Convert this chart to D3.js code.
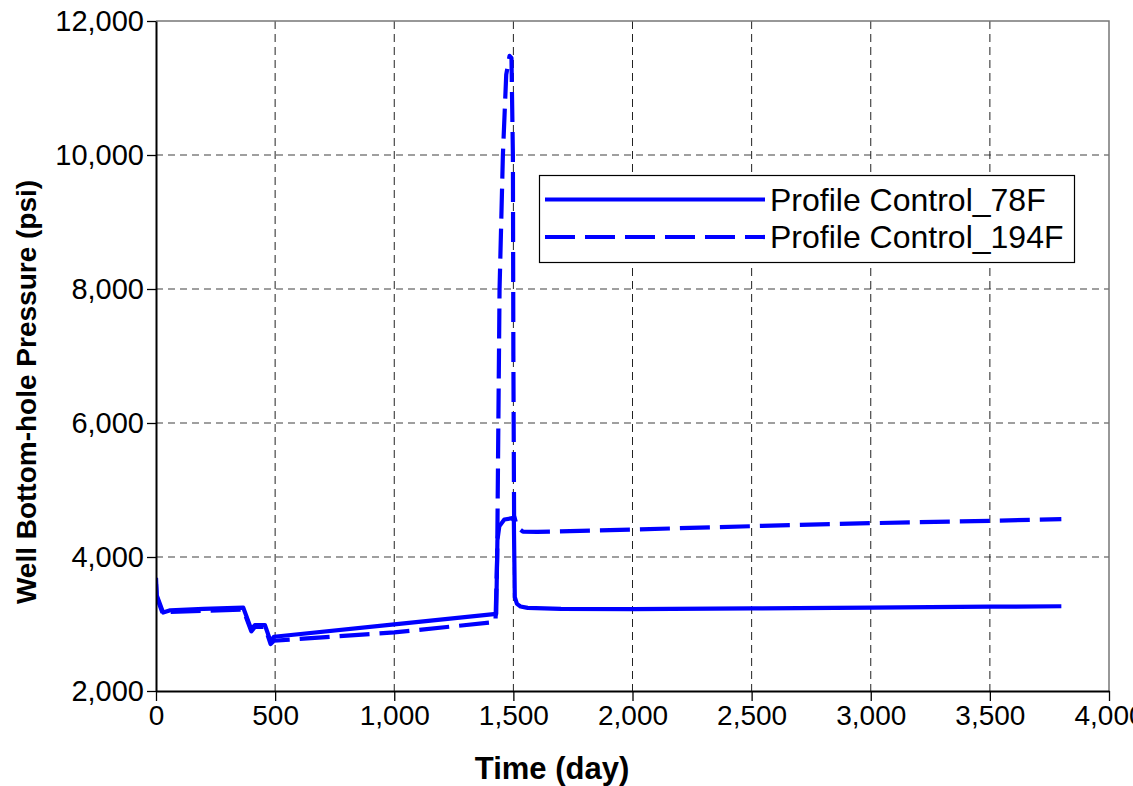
<!DOCTYPE html>
<html><head><meta charset="utf-8">
<script src="https://cdn.jsdelivr.net/npm/d3@7"></script>
<style>body{margin:0;background:#fff;} svg{display:block;font-family:"Liberation Sans",Arial,sans-serif;}</style>
</head><body>
<script>
// Data
const seriesNames = ["Profile Control_78F", "Profile Control_194F"];
const time78 = [0,3,30,60,200,366,400,415,457,481,495,1000,1428,1433,1441,1462,1495,1502,1506,1515,1530,1560,1700,2000,2500,3000,3500,3800];
const p78    = [3690,3430,3170,3205,3225,3245,2920,2985,2985,2740,2810,2995,3150,4250,4460,4560,4580,4540,3400,3300,3262,3240,3225,3222,3232,3245,3258,3265];
const time194 = [0,3,30,60,366,400,415,457,481,495,1000,1425,1432,1437,1442,1456,1470,1484,1492,1498,1500,1503,1515,1540,1600,2000,2500,3000,3500,3800];
const p194    = [3600,3400,3140,3180,3215,2890,2955,2955,2700,2750,2875,3030,4000,6000,8000,10000,11200,11480,11450,10000,7000,4620,4450,4378,4375,4410,4460,4505,4540,4565];
const xTicks = [0,500,1000,1500,2000,2500,3000,3500,4000];
const yTicks = [2000,4000,6000,8000,10000,12000];
const xTickLabels = ["0","500","1,000","1,500","2,000","2,500","3,000","3,500","4,000"];
const yTickLabels = ["2,000","4,000","6,000","8,000","10,000","12,000"];
const xTitle = "Time (day)";
const yTitle = "Well Bottom-hole Pressure (psi)";

const W = 1133, H = 786;
const m = {left:156, top:21, right:24, bottom:95};
const iw = W - m.left - m.right, ih = H - m.top - m.bottom;

const svg = d3.select("body").append("svg").attr("width", W).attr("height", H);
const x = d3.scaleLinear().domain([0,4000]).range([m.left, m.left+iw]);
const y = d3.scaleLinear().domain([2000,12000]).range([m.top+ih, m.top]);

// grid
svg.append("g").selectAll("line").data(yTicks.slice(1,-1)).join("line")
  .attr("x1", m.left).attr("x2", m.left+iw)
  .attr("y1", d=>y(d)).attr("y2", d=>y(d))
  .attr("stroke","#808080").attr("stroke-width",1.3).attr("stroke-dasharray","7,5");
svg.append("g").selectAll("line").data(xTicks.slice(1,-1)).join("line")
  .attr("x1", d=>x(d)).attr("x2", d=>x(d))
  .attr("y1", m.top).attr("y2", m.top+ih)
  .attr("stroke","#222").attr("stroke-width",1).attr("stroke-dasharray","8,5");

// frame top/right
svg.append("path").attr("d", `M${m.left},${m.top}H${m.left+iw}V${m.top+ih}`)
  .attr("fill","none").attr("stroke","#777").attr("stroke-width",1.5);

// lines
const clip = svg.append("clipPath").attr("id","c").append("rect")
  .attr("x",m.left).attr("y",m.top-10).attr("width",iw).attr("height",ih+10);
const line = d3.line().x(d=>x(d[0])).y(d=>y(d[1]));
const d78 = time78.map((t,i)=>[t,p78[i]]);
const d194 = time194.map((t,i)=>[t,p194[i]]);
const lg = svg.append("g").attr("clip-path","url(#c)");
lg.append("path").datum(d194).attr("d",line).attr("fill","none").attr("stroke","#0000ff")
  .attr("stroke-width",4.2).attr("stroke-dasharray","30,10").attr("stroke-linejoin","round");
lg.append("path").datum(d78).attr("d",line).attr("fill","none").attr("stroke","#0000ff")
  .attr("stroke-width",4.2).attr("stroke-linejoin","round");

// axes
const xAxis = svg.append("g").attr("transform",`translate(0,${m.top+ih})`)
  .call(d3.axisBottom(x).tickValues(xTicks).tickFormat((d,i)=>xTickLabels[i]).tickSize(10).tickSizeOuter(0));
xAxis.select(".domain").attr("stroke","#000").attr("stroke-width",2);
xAxis.selectAll(".tick line").attr("stroke","#000").attr("stroke-width",1.3);
xAxis.selectAll("text").attr("font-size",28).attr("fill","#000").attr("dy","0.71em").attr("y",14)
  .attr("font-family","'Liberation Sans',Arial,sans-serif");

const yAxis = svg.append("g").attr("transform",`translate(${m.left},0)`)
  .call(d3.axisLeft(y).tickValues(yTicks).tickFormat((d,i)=>yTickLabels[i]).tickSize(9).tickSizeOuter(0));
yAxis.select(".domain").attr("stroke","#000").attr("stroke-width",2);
yAxis.selectAll(".tick line").attr("stroke","#000").attr("stroke-width",1.3);
yAxis.selectAll("text").attr("font-size",29).attr("fill","#000").attr("x",-12)
  .attr("font-family","'Liberation Sans',Arial,sans-serif");

// titles
svg.append("text").attr("x", 552).attr("y", 779).attr("text-anchor","middle")
  .attr("font-size",31).attr("font-weight","bold").text(xTitle);
svg.append("text").attr("transform","translate(36,392) rotate(-90)").attr("text-anchor","middle")
  .attr("font-size",28).attr("font-weight","bold").text(yTitle);

// legend
const leg = svg.append("g");
leg.append("rect").attr("x",539.5).attr("y",175.5).attr("width",535).attr("height",87)
  .attr("fill","#fff").attr("stroke","#000").attr("stroke-width",1.2);
const legY = [199.5, 237];
const dashes = [null, "30,10"];
seriesNames.forEach((n,i)=>{
  leg.append("line").attr("x1",545).attr("x2",765).attr("y1",legY[i]).attr("y2",legY[i])
    .attr("stroke","#0000ff").attr("stroke-width",4.2).attr("stroke-dasharray",dashes[i]);
  leg.append("text").attr("x",770).attr("y",legY[i]).attr("dy","0.35em")
    .attr("font-size",32).attr("fill","#000").text(n);
});
</script>
</body></html>
